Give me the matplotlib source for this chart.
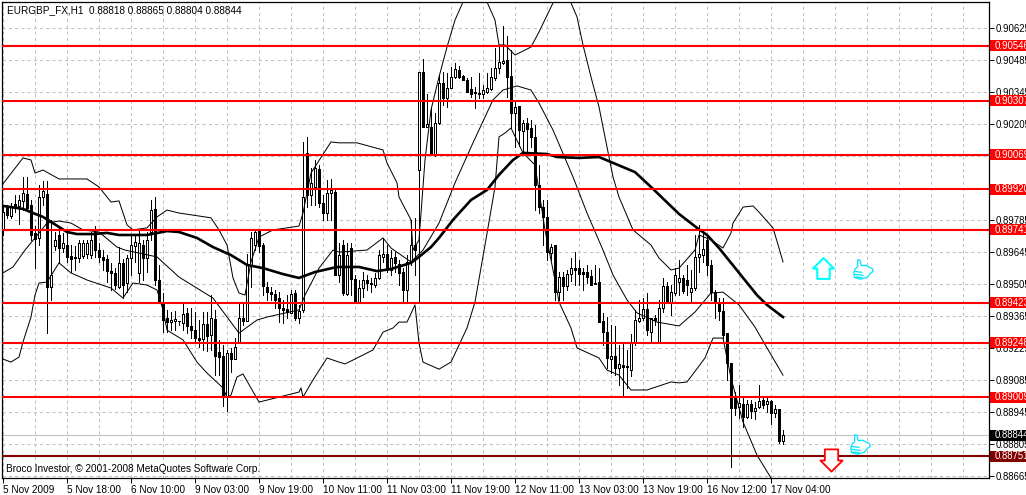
# --------------------------------------------------------------
# EURGBP H1 candle chart with bands, moving average and levels
# --------------------------------------------------------------
import numpy as np
import matplotlib
matplotlib.use("Agg")
import matplotlib.pyplot as plt
from matplotlib.patches import Rectangle
from matplotlib.path import Path
from matplotlib.transforms import blended_transform_factory

plt.rcParams["font.family"] = ["Liberation Sans", "DejaVu Sans"]
LABEL_SIZE = 7.2
PRICE_SIZE = 6.9

# --------------------------------------------------------------
# DATA (prices in points, 1 point = 0.00001)
# --------------------------------------------------------------
opens = [89741,89846,89802,89855,89846,89868,89898,89850,89728,89706,89885,89898,89491,89671,89719,89662,89675,89627,89623,89618,
         89627,89636,89631,89732,89653,89623,89614,89562,89553,89491,89597,89509,89618,89671,89553,89675,89618,89732,89833,89522,
         89426,89356,89338,89343,89343,89334,89378,89321,89303,89268,89264,89330,89281,89351,89207,89189,89010,89203,89176,89251,
         89356,89343,89588,89675,89741,89675,89491,89469,89461,89443,89400,89395,89378,89465,89356,89391,90078,89894,89929,90008,
         89859,89815,89903,89907,89544,89675,89461,89662,89526,89426,89487,89522,89509,89500,89531,89623,89636,89566,89623,89592,
         89557,89478,89601,89675,90003,90432,90191,90191,90069,90209,90384,90318,90362,90410,90441,90415,90397,90358,90345,90340,
         90336,90345,90358,90406,90449,90471,90485,90415,90253,90283,90174,90209,90187,90148,89938,89841,89798,89640,89675,89469,
         89535,89496,89548,89574,89574,89557,89557,89540,89509,89513,89343,89294,89176,89189,89137,89150,89146,89128,89251,89343,
         89356,89395,89294,89356,89251,89400,89496,89426,89465,89513,89531,89522,89469,89487,89623,89631,89697,89588,89469,89426,
         89386,89290,89159,89006,88966,88980,88923,88980,88949,88966,88997,88980,88993,88940,88958,88818]
highs = [89850,89850,89859,89894,89894,89973,89973,89872,89758,89938,89956,89956,89785,89732,89750,89728,89728,89675,89671,89697,
         89697,89697,89732,89758,89684,89653,89631,89597,89574,89666,89614,89631,89719,89719,89741,89697,89732,89872,89885,89588,
         89465,89391,89382,89386,89343,89421,89400,89400,89382,89347,89382,89382,89456,89391,89260,89238,89216,89225,89268,89421,
         89421,89636,89732,89745,89745,89684,89513,89491,89478,89469,89435,89456,89478,89478,89413,90126,90148,90012,90047,90025,
         89894,89960,89964,89916,89684,89697,89684,89684,89544,89522,89557,89544,89531,89553,89653,89706,89675,89653,89644,89610,
         89574,89631,89785,89794,90432,90489,90336,90275,90253,90419,90432,90428,90454,90471,90458,90419,90406,90410,90367,90428,
         90375,90428,90449,90537,90541,90633,90590,90528,90310,90283,90222,90231,90222,90200,90025,89872,89872,89680,89675,89557,
         89557,89566,89618,89644,89610,89574,89588,89566,89588,89574,89378,89360,89325,89321,89238,89247,89216,89286,89391,89435,
         89443,89465,89356,89369,89435,89531,89513,89500,89574,89610,89544,89588,89566,89719,89763,89741,89719,89610,89478,89443,
         89443,89290,89159,89032,89063,89006,88997,88997,88988,89063,89006,89006,88997,88975,88958,88865]
lows = [89719,89794,89794,89819,89767,89828,89828,89697,89574,89675,89850,89290,89435,89653,89597,89644,89601,89557,89566,89601,
        89618,89618,89618,89623,89601,89566,89513,89478,89483,89487,89443,89469,89544,89601,89513,89522,89557,89697,89500,89421,
        89294,89294,89303,89303,89325,89303,89290,89268,89246,89229,89216,89212,89216,89106,89106,88971,88949,89119,89176,89251,
        89325,89343,89491,89653,89644,89456,89435,89435,89400,89338,89334,89356,89378,89347,89334,89382,89841,89850,89850,89841,
        89785,89785,89785,89544,89513,89456,89456,89456,89421,89421,89448,89478,89469,89491,89526,89601,89557,89544,89557,89500,
        89421,89426,89588,89544,89426,90191,90191,90069,90064,90204,90288,90279,90362,90406,90406,90397,90345,90323,90275,90318,
        90318,90340,90353,90397,90428,90467,90323,90187,90104,90108,90078,90078,90104,89828,89815,89675,89610,89610,89435,89435,
        89435,89478,89518,89500,89500,89478,89509,89500,89505,89338,89238,89137,89115,89106,89063,89019,89050,89102,89238,89338,
        89347,89281,89251,89325,89251,89382,89426,89369,89456,89456,89465,89456,89426,89478,89557,89601,89544,89435,89356,89347,
        89268,89085,88704,88931,88918,88879,88918,88918,88914,88962,88962,88944,88892,88923,88809,88804]
closes = [89819,89806,89841,89841,89872,89903,89837,89719,89701,89885,89911,89491,89544,89697,89662,89684,89623,89614,89618,89684,
          89684,89684,89697,89653,89623,89610,89562,89553,89500,89597,89500,89618,89675,89688,89684,89618,89697,89828,89522,89426,
          89347,89338,89347,89351,89343,89373,89321,89303,89268,89260,89330,89277,89356,89189,89185,89010,89203,89176,89229,89356,
          89343,89588,89706,89732,89671,89496,89469,89461,89435,89400,89391,89382,89461,89356,89386,89885,89894,89947,90012,89859,
          89815,89903,89916,89544,89631,89465,89631,89526,89421,89487,89522,89509,89505,89531,89631,89636,89570,89618,89597,89553,
          89478,89601,89675,89653,90432,90191,90204,90073,90209,90384,90318,90362,90410,90445,90410,90397,90345,90336,90340,90336,
          90353,90362,90410,90449,90476,90480,90410,90253,90279,90178,90209,90182,90148,89938,89841,89798,89644,89666,89469,89535,
          89496,89548,89574,89566,89548,89548,89535,89500,89505,89338,89294,89181,89189,89137,89155,89141,89141,89251,89347,89356,
          89395,89303,89356,89347,89400,89496,89426,89469,89544,89531,89474,89500,89487,89623,89636,89657,89588,89469,89426,89386,
          89281,89159,88962,88962,88984,88923,88980,88949,88962,88993,88975,88993,88940,88958,88818,88844]

ma_bars = [0,2,5,7.5,10,12,14,16,18.5,22.5,26,29,36,41,44,48.5,52.5,57,61,65,70,74,78,83.5,89,93.5,97,102,104,107,109,112.5,117,
           121,124,127.5,130,136,138.5,144,149,152,158,162,169,173.5,176,179,182,188.5,191,195]
ma_vals = [89846,89841,89833,89815,89798,89776,89754,89732,89723,89723,89728,89719,89719,89736,89732,89706,89666,89631,89588,89574,
           89548,89531,89557,89579,89579,89561,89570,89597,89623,89666,89706,89785,89872,89916,89982,90047,90078,90073,90060,90056,
           90060,90038,89994,89929,89811,89750,89719,89662,89597,89456,89413,89360]

upper_bars = [0,5,7,8,10,14,21,24,27,29,31,32.5,36,38.5,41,44,52,54,56,57.5,59,60.5,62,64,67.5,71,74,75,77,82,84,88.5,95,96,98.5,
              99,102,102.5,104,105.5,107,109,111,113,115,118,121,123,124,125.5,128,132,134,137.5,139.5,142,143.5,145,147,149,151,
              152.5,154,157.5,162,164,167,169,173,174,177,180,182,182.5,185,187.5,189,192.5,194,195]
upper_vals = [89943,90056,90047,89990,90003,89964,89964,89929,89863,89868,89763,89741,89750,89798,89828,89815,89794,89741,89675,
              89531,89465,89456,89601,89710,89741,89750,89758,89815,89990,90126,90122,90122,90091,90034,89947,89885,89785,89653,
              89697,90047,90266,90410,90541,90659,90738,90791,90738,90659,90550,90550,90506,90541,90607,90734,90769,90734,90673,
              90550,90410,90279,90104,89973,89885,89741,89675,89618,89566,89574,89653,89719,89697,89662,89728,89771,89841,89846,
              89819,89750,89662,89601]

middle_bars = [0,2.5,5.5,8,11,14,17,20,24,28.5,30.5,38.5,44,52.5,59,63.5,66,74,75.5,79,82.5,84,91,95,97,102,105,109,113,117.5,122.5,
               125,128.5,132,134,137.5,142.5,146,150,152.5,156,158.5,163.5,169,173,177,180,184,188,191,195]
middle_vals = [89553,89579,89653,89706,89771,89780,89771,89741,89732,89666,89653,89623,89535,89443,89290,89347,89360,89391,89456,
               89574,89653,89644,89653,89706,89662,89601,89653,89771,89947,90122,90310,90353,90371,90353,90296,90178,89973,89815,
               89653,89544,89435,89378,89338,89321,89382,89465,89469,89413,89316,89225,89106]

lower_bars = [0,2,4,5,7,8,9,11,14,17,21,27,30,32.5,36,38.5,40,41,45,48.5,51,55,56,57,58.5,60,64,69,74,74.5,75,77.5,81,84,85.5,87.5,
              92.5,95,97.5,99,101,103,104,105,109,112,116,118,120.5,123,124,125.5,127,130,133,135.5,138,139,142,143.5,149,151,154,
              157,161,167,169,171,175.5,177.5,180,182,185,188.5,192]
lower_vals = [89176,89163,89185,89251,89360,89456,89509,89513,89597,89553,89522,89487,89443,89509,89500,89478,89391,89303,89260,
              89163,89115,89050,89010,89019,89098,89111,88988,89010,89032,89050,89010,89085,89181,89163,89155,89172,89216,89294,
              89312,89338,89338,89413,89246,89163,89132,89163,89312,89426,89675,89929,90148,90165,90187,90078,90025,89741,89522,
              89426,89312,89225,89181,89128,89106,89041,89041,89076,89072,89076,89181,89268,89268,89093,88901,88756,88656]

red_levels = [0.90546, 0.90307, 0.90069, 0.89920, 0.89741, 0.89423, 0.89248, 0.89009]
stop_level = 0.88751
last_price = 0.88844

price_ticks = [0.90625, 0.90485, 0.90345, 0.90205, 0.90065, 0.89925, 0.89785, 0.89645,
               0.89505, 0.89365, 0.89225, 0.89085, 0.88945, 0.88805, 0.88665]
time_labels = ["5 Nov 2009", "5 Nov 18:00", "6 Nov 10:00", "9 Nov 03:00", "9 Nov 19:00", "10 Nov 11:00", "11 Nov 03:00",
               "11 Nov 19:00", "12 Nov 11:00", "13 Nov 03:00", "13 Nov 19:00", "16 Nov 12:00", "17 Nov 04:00"]

up_arrow_at = (205, 0.89574)
down_arrow_at = (207, 0.88735)
thumbs_at = [(215, 0.89570), (214.25, 0.88804)]

# --------------------------------------------------------------
# FIGURE AND AXES
# --------------------------------------------------------------
fig = plt.figure(figsize=(10.26, 4.95), dpi=100, facecolor="white")
ax = fig.add_axes([2 / 1026, 17 / 495, 987 / 1026, 476 / 495])
ax.set_xlim(-0.25, 246.5)
ax.set_ylim(0.88656, 0.90738)
ax.set_axisbelow(True)

for side in ax.spines.values():
    side.set_linewidth(0.9)
    side.set_color("black")

ax.yaxis.tick_right()
ax.set_yticks(price_ticks)
ax.set_yticklabels([f"{p:.5f}" for p in price_ticks], fontsize=PRICE_SIZE, ha="left")
ax.tick_params(axis="y", length=3.5, width=0.7, pad=1.5)

ax.set_xticks(np.arange(len(time_labels)) * 16)
ax.set_xticklabels(time_labels, fontsize=LABEL_SIZE, ha="left")
ax.tick_params(axis="x", length=3.5, width=0.7, pad=1.5)
ax.set_xticks(np.arange(0, 246, 8), minor=True)
ax.tick_params(axis="x", which="minor", length=0)

ax.grid(True, which="both", linestyle=(0, (3, 3)), color="#c0c0c0", linewidth=0.75)

# --------------------------------------------------------------
# CANDLES
# --------------------------------------------------------------
o = np.array(opens) / 1e5
h = np.array(highs) / 1e5
l = np.array(lows) / 1e5
c = np.array(closes) / 1e5
bars = np.arange(len(o))

ax.vlines(bars, l, h, color="black", linewidth=0.72, zorder=3, antialiased=False)
up = c >= o
ax.bar(bars[up], (c - o)[up], bottom=o[up], width=0.5, facecolor="white", edgecolor="black",
       linewidth=0.72, zorder=3.2, antialiased=False)
ax.bar(bars[~up], (o - c)[~up], bottom=c[~up], width=0.5, facecolor="black", edgecolor="black",
       linewidth=0.72, zorder=3.2, antialiased=False)

# --------------------------------------------------------------
# BANDS AND MOVING AVERAGE
# --------------------------------------------------------------
for xs, ys in [(upper_bars, upper_vals), (middle_bars, middle_vals), (lower_bars, lower_vals)]:
    ax.plot(xs, np.array(ys) / 1e5, color="black", linewidth=0.72, zorder=3.5)
ax.plot(ma_bars, np.array(ma_vals) / 1e5, color="black", linewidth=1.9, zorder=3.6)

# --------------------------------------------------------------
# LEVELS AND PRICE BOXES
# --------------------------------------------------------------
right_side = blended_transform_factory(ax.transAxes, ax.transData)


def price_box(price, color):
    ax.add_patch(Rectangle((1.001, price - 0.00024), 0.05, 0.00048, transform=right_side,
                           facecolor=color, edgecolor="none", clip_on=False, zorder=5))
    ax.text(1.0052, price, f"{price:.5f}", transform=right_side, color="white", fontsize=PRICE_SIZE,
            va="center", ha="left", clip_on=False, zorder=6)


for level in red_levels:
    ax.axhline(level, color="#ff0000", linewidth=1.5, zorder=4)
    price_box(level, "#ff0000")

ax.axhline(last_price, color="#c0c0c0", linewidth=0.8, zorder=2)
price_box(last_price, "black")
ax.axhline(stop_level, color="#800000", linewidth=1.5, zorder=4)
price_box(stop_level, "#800000")

# --------------------------------------------------------------
# SIGNAL ARROWS AND THUMBS
# --------------------------------------------------------------
up_shape = Path([(-0.3, 0.0), (-0.5, 0.0), (0.0, 0.5), (0.5, 0.0), (0.3, 0.0), (0.3, -0.5), (-0.3, -0.5), (-0.3, 0.0)], closed=True)
down_shape = Path([(-0.3, 0.0), (-0.5, 0.0), (0.0, -0.5), (0.5, 0.0), (0.3, 0.0), (0.3, 0.5), (-0.3, 0.5), (-0.3, 0.0)], closed=True)
ax.plot(*up_arrow_at, marker=up_shape, markersize=15, markerfacecolor="white", markeredgecolor="#00ffff",
        markeredgewidth=1.5, zorder=7)
ax.plot(*down_arrow_at, marker=down_shape, markersize=16, markerfacecolor="white", markeredgecolor="#ff0000",
        markeredgewidth=1.3, zorder=7)

outline = [(-0.3, 0.5), (-0.18, 0.48), (-0.12, 0.2), (0.1, 0.22), (0.45, 0.05), (0.5, -0.1), (0.35, -0.2), (0.2, -0.4),
           (-0.15, -0.5), (-0.45, -0.42), (-0.5, -0.2), (-0.45, 0.0), (-0.3, 0.15), (-0.3, 0.5)]
fingers = [(-0.45, -0.1), (-0.05, -0.15), (-0.45, -0.25), (0.0, -0.3), (-0.4, -0.38), (-0.05, -0.42)]
codes = [Path.MOVETO] + [Path.LINETO] * (len(outline) - 1) + [Path.MOVETO, Path.LINETO] * 3
thumb_shape = Path(outline + fingers, codes)
for spot in thumbs_at:
    ax.plot(*spot, marker=thumb_shape, markersize=14, markerfacecolor="white", markeredgecolor="#00e5ff",
            markeredgewidth=0.9, zorder=7)

# --------------------------------------------------------------
# HEADER AND FOOTER TEXT
# --------------------------------------------------------------
fig.text(7 / 1026, 1 - 10.5 / 495, "EURGBP_FX,H1  0.88818 0.88865 0.88804 0.88844", fontsize=LABEL_SIZE, color="black", va="center")
fig.text(6 / 1026, 1 - 469 / 495, "Broco Investor, © 2001-2008 MetaQuotes Software Corp.", fontsize=LABEL_SIZE, color="black", va="center")

fig.savefig("out.png", dpi=100)
